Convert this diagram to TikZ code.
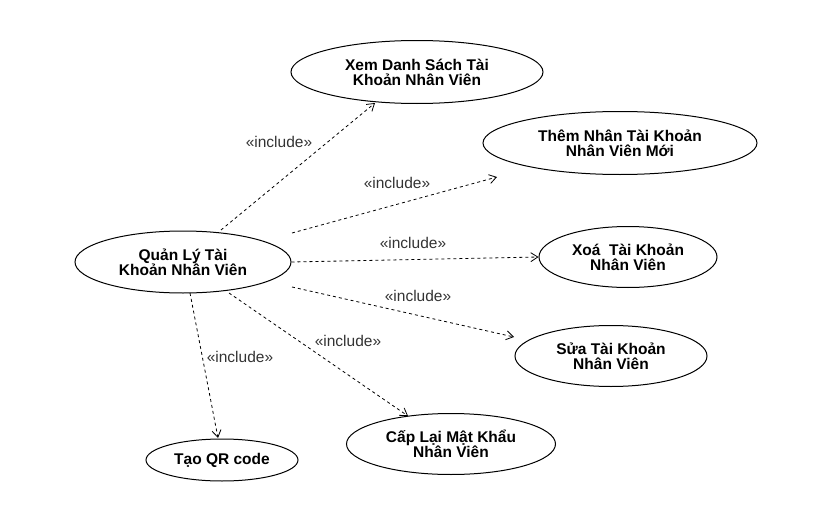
\documentclass[tikz,border=0pt]{standalone}
\usepackage{fontspec}
\setmainfont{Liberation Sans}
\usetikzlibrary{arrows.meta, shapes.geometric}

\begin{document}
\begin{tikzpicture}[x=1pt, y=-1pt,
    usecase/.style={ellipse, draw, line width=1pt, inner sep=0pt, align=center,
      font=\fontsize{15.5}{15}\selectfont\bfseries},
    incl/.style={line width=0.8pt, dash pattern=on 3pt off 3pt,
      -{Straight Barb[length=7pt, width=9pt]}},
    lbl/.style={font=\fontsize{15.5}{17}\selectfont, text=black!80}]
  \useasboundingbox (0,0) rectangle (815,522);
  % Use cases
  \node[usecase, minimum width=216pt, minimum height=62pt] (quanly) at (183,262) {Quản Lý Tài\\Khoản Nhân Viên};
  \node[usecase, minimum width=252pt, minimum height=63pt] (xem) at (417,72) {Xem Danh Sách Tài\\Khoản Nhân Viên};
  \node[usecase, minimum width=274pt, minimum height=63pt] (them) at (620,143) {Thêm Nhân Tài Khoản\\Nhân Viên Mới};
  \node[usecase, minimum width=178pt, minimum height=61pt] (xoa) at (628,257) {Xoá\ \ Tài Khoản\\Nhân Viên};
  \node[usecase, minimum width=192pt, minimum height=61pt] (sua) at (611,356) {Sửa Tài Khoản\\Nhân Viên};
  \node[usecase, minimum width=209pt, minimum height=61pt] (caplai) at (451,444) {Cấp Lại Mật Khẩu\\Nhân Viên};
  \node[usecase, minimum width=152pt, minimum height=42pt] (taoqr) at (222,460) {Tạo QR code};
  % Include relations
  \coordinate (qa) at (221,230);
  \coordinate (qb) at (292,233);
  \coordinate (qd) at (292,287);
  \coordinate (qe) at (229,293);
  \coordinate (qf) at (190,293);
  \draw[incl] (qa) -- (375,103);
  \draw[incl] (qb) -- (497,177);
  \draw[incl] (quanly.east) -- (xoa.west);
  \draw[incl] (qd) -- (514,337);
  \draw[incl] (qe) -- (408,416);
  \draw[incl] (qf) -- (218,438);
  % Labels
  \foreach \lx/\ly in {279/142, 397/183, 413/243, 418/296, 348/341, 240/357}{
    \node[lbl] at (\lx,\ly) {«include»};
  }
\end{tikzpicture}
\end{document}
